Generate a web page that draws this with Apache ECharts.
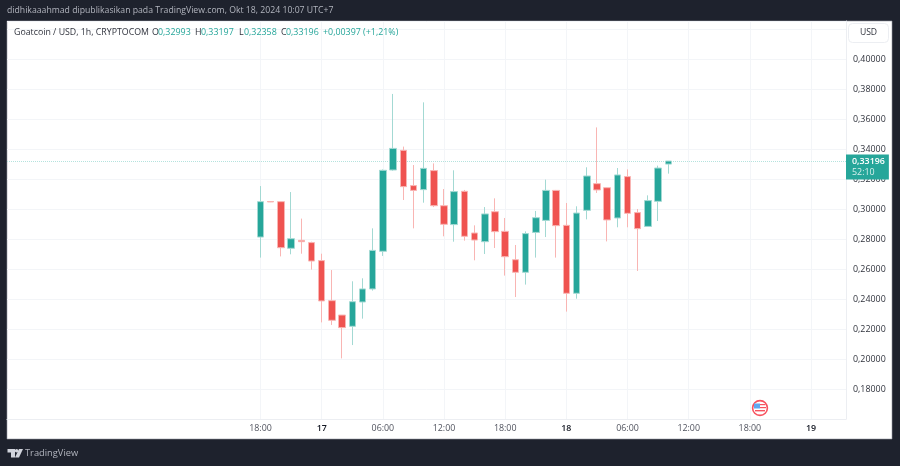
<!DOCTYPE html>
<html><head><meta charset="utf-8">
<style>html,body{margin:0;padding:0;background:#1e222d}#c{width:900px;height:466px}</style>
<script src="https://cdn.jsdelivr.net/npm/echarts@6/dist/echarts.min.js"></script>
</head><body><div id="c"></div>
<script>
// hours after the first candle (18:00)
const hours = [0,1,2,3,4,5,6,7,8,9,10,11,12,13,14,15,16,17,18,19,20,21,22,23,24,25,26,27,28,29,30,31,32,33,34,35,36,37,38,39,40];
const opens  = [.2813,.3050,.3049,.2738,.2791,.2776,.2656,.2389,.2293,.2218,.2380,.2467,.2718,.3260,.3391,.3156,.3129,.3256,.3022,.2896,.3118,.2840,.2782,.2982,.2851,.2662,.2578,.2844,.2924,.3124,.2891,.2438,.2991,.3169,.3142,.2940,.3216,.2976,.2884,.3051,.32993];
const closes = [.3049,.3047,.2742,.2802,.2782,.2653,.2387,.2258,.2209,.2382,.2467,.2724,.3258,.3404,.3149,.3124,.3271,.3022,.2898,.3116,.2818,.2793,.2967,.2849,.2682,.2578,.2836,.2942,.3124,.2889,.2438,.2973,.3220,.3127,.2927,.3227,.2971,.2869,.3056,.3273,.33196];
const lows   = [.2676,.3046,.2684,.2698,.2702,.2596,.2244,.2227,.2004,.2093,.2269,.2456,.2687,.3255,.3060,.2871,.3042,.3013,.2818,.2782,.2789,.2658,.2700,.2740,.2556,.2413,.2496,.2676,.2813,.2676,.2316,.2402,.2931,.3107,.2784,.2878,.2878,.2587,.2882,.2920,.32358];
const highs  = [.3153,.3051,.3049,.3113,.2936,.2782,.2702,.2593,.2293,.2518,.2538,.2871,.3264,.3767,.3416,.3293,.3711,.3304,.3133,.3258,.3127,.2891,.3013,.3071,.2940,.2760,.2851,.2987,.3196,.3127,.3040,.3018,.3278,.3544,.3144,.3273,.3264,.3000,.3091,.3289,.33197];
const tickHours  = [0,6,12,18,24,30,36,42,48,54];
const tickLabels = ['18:00','17','06:00','12:00','18:00','18','06:00','12:00','18:00','19'];
const lastPrice = 0.33196;
const countdown = '52:10';
const headerText = 'didhikaaahmad dipublikasikan pada TradingView.com, Okt 18, 2024 10:07 UTC+7';
const symbolText = 'Goatcoin / USD, 1h, CRYPTOCOM';
const ohlcLetters = ['O','H','L','C'];
const ohlcValues = ['0,32993','0,33197','0,32358','0,33196'];
const changeText = '+0,00397 (+1,21%)';

const UP='#26a69a', DOWN='#ef5350', FONT='"Open Sans",sans-serif', INK='#30333d', SZ=8.9;
const fmt = v => v.toFixed(5).replace('.',',');
const candles = hours.map((h,i)=>[h,opens[i],closes[i],lows[i],highs[i]]);
const txt=(x,y,t,fill,size,extra)=>({type:'text',x,y,z:5,style:Object.assign({text:t,fill,font:size+'px '+FONT,textVerticalAlign:'middle'},extra||{})});
const letterX=[152,195,239,281], valueX=[158,201,244,286];
const graphics=[
 {type:'rect',z:-10,shape:{x:7,y:21,width:885,height:418},style:{fill:'#fff',stroke:'#9598a1',lineWidth:0.6}},
 txt(7,11,headerText,'#b2b5be',8.7),
 txt(14,32,symbolText,INK,8.8),
 {type:'rect',z:5,shape:{x:848.5,y:23.5,width:40,height:19,r:4},style:{fill:'#fff',stroke:'#eceef2',lineWidth:1}},
 txt(868.5,33,'USD',INK,8.6,{textAlign:'center'}),
 txt(323,32,changeText,UP,SZ),
 // TradingView logo
 {type:'polygon',z:5,shape:{points:[[7.5,449],[15,449],[15,457.5],[11,457.5],[11,452.5],[7.5,452.5]]},style:{fill:'#d1d4dc'}},
 {type:'circle',z:5,shape:{cx:16.6,cy:450.8,r:1.8},style:{fill:'#d1d4dc'}},
 {type:'polygon',z:5,shape:{points:[[19,449],[23,449],[19,457.5],[15,457.5]]},style:{fill:'#d1d4dc'}},
 txt(25,453.5,'TradingView','#b2b5be',9.3),
 // economic event flag
 {type:'circle',z:5,shape:{cx:760,cy:408,r:7.4},style:{fill:'#fff',stroke:'#f7525f',lineWidth:1.6}},
 {type:'rect',z:6,shape:{x:754,y:403.5,width:6,height:5},style:{fill:'#5fa8f0'}},
 {type:'rect',z:6,shape:{x:760,y:404,width:5.5,height:1.2},style:{fill:'#f7525f'}},
 {type:'rect',z:6,shape:{x:760,y:407,width:6,height:1.2},style:{fill:'#f7525f'}},
 {type:'rect',z:6,shape:{x:755,y:410,width:10,height:1.4},style:{fill:'#f7525f'}}
];
ohlcLetters.forEach((l,i)=>{
  graphics.push(txt(letterX[i],32,l,INK,SZ));
  graphics.push(txt(valueX[i],32,ohlcValues[i],UP,SZ));
});
const chart=echarts.init(document.getElementById('c'),null,{renderer:'canvas'});
chart.setOption({
 animation:false,
 backgroundColor:'#1e222d',
 graphic:graphics,
 grid:{left:7,right:54,top:21,bottom:47},
 xAxis:{type:'value',min:-24.87,max:57.43,
  axisLine:{show:true,onZero:false,lineStyle:{color:'#eceef2',width:1}},
  axisTick:{show:false,customValues:tickHours},
  splitLine:{show:true,lineStyle:{color:'#f3f5f8',width:1}},
  axisLabel:{customValues:tickHours,margin:5,color:'#50535e',fontSize:SZ,fontFamily:FONT,hideOverlap:false,
    rich:{day:{color:'#131722',fontSize:SZ,fontWeight:600,fontFamily:FONT}},
    formatter:v=>{const i=tickHours.indexOf(v);if(i<0)return '';const t=tickLabels[i];return t.length<3?'{day|'+t+'}':t;}}},
 yAxis:{type:'value',position:'right',min:0.16,max:0.42533,interval:0.02,
  axisLine:{show:true,onZero:false,lineStyle:{color:'#eceef2',width:1}},axisTick:{show:false},
  splitLine:{show:true,lineStyle:{color:'#f3f5f8',width:1}},
  axisLabel:{margin:7,color:INK,fontSize:SZ,fontFamily:FONT,showMinLabel:false,showMaxLabel:false,
    formatter:v=>(v>0.41||v<0.17)?'':fmt(v)}},
 series:[{type:'candlestick',z:3,data:candles,barWidth:7,encode:{x:0,y:[1,2,3,4]},
  itemStyle:{color:UP,color0:DOWN,borderColor:'#a3d9d3',borderColor0:'#f9b5b3',borderWidth:1},
  markLine:{silent:true,symbol:'none',animation:false,precision:5,z:1,
   data:[{yAxis:lastPrice}],
   lineStyle:{color:'#b5e3de',type:'dotted',width:1,opacity:1},
   label:{show:true,position:'end',distance:0,offset:[0,6],
     formatter:'{a|'+fmt(lastPrice)+'}\n{b|'+countdown+'}',
     backgroundColor:UP,padding:[1,4,1,6],align:'left',
     rich:{a:{color:'#fff',fontSize:SZ,fontWeight:600,fontFamily:FONT,lineHeight:11.5},
           b:{color:'#d8f0ed',fontSize:SZ,fontFamily:FONT,lineHeight:11.5}}}}
 }]
});
</script></body></html>
